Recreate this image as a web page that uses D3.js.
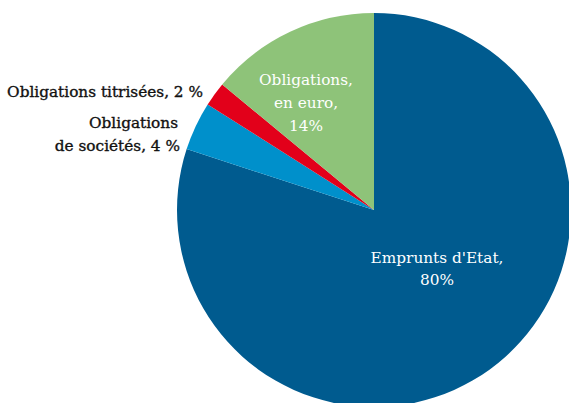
<!DOCTYPE html>
<html><head><meta charset="utf-8">
<script src="https://cdn.jsdelivr.net/npm/d3@7"></script>
<style>body{margin:0;background:#fff}svg{display:block}text{font-family:"DejaVu Serif",serif}</style>
</head><body>
<svg id="c" width="569" height="403"></svg>
<script>
const categories = ["Emprunts d'Etat", "Obligations de sociétés", "Obligations titrisées", "Obligations, en euro"];
const values = [80, 4, 2, 14];
const colors = ["#005b8f", "#0090cb", "#e2001a", "#8ec379"];
const labelLines = [["Emprunts d'Etat,", "80%"], ["Obligations", "de sociétés, 4 %"], ["Obligations titrisées, 2 %"], ["Obligations,", "en euro,", "14%"]];

const svg = d3.select("#c");
const cx = 374, cy = 210, r = 197;
const pie = d3.pie().sort(null).value(d => d)(values);
const arc = d3.arc().innerRadius(0).outerRadius(r);
const g = svg.append("g").attr("transform", `translate(${cx},${cy})`);
g.selectAll("path").data(pie).join("path").attr("d", arc).attr("fill", (d, i) => colors[i]);

const labelPos = [
  {x: 437, y: 263, anchor: "middle", fill: "#fff", lh: 22},
  {x: 178, y: 128, anchor: "end", fill: "#111", lh: 23},
  {x: 203, y: 97, anchor: "end", fill: "#111", lh: 23},
  {x: 306, y: 85, anchor: "middle", fill: "#fff", lh: 23}
];
labelLines.forEach((lines, i) => {
  const p = labelPos[i];
  const t = svg.append("text").attr("text-anchor", p.anchor).attr("fill", p.fill)
    .attr("font-size", 15.3);
  if (p.fill !== "#fff") t.attr("stroke", p.fill).attr("stroke-width", 0.35);
  lines.forEach((s, j) => {
    t.append("tspan").attr("x", p.anchor === "end" && j === 1 ? p.x + 2 : p.x).attr("y", p.y + j * p.lh).text(s);
  });
});
</script>
</body></html>
